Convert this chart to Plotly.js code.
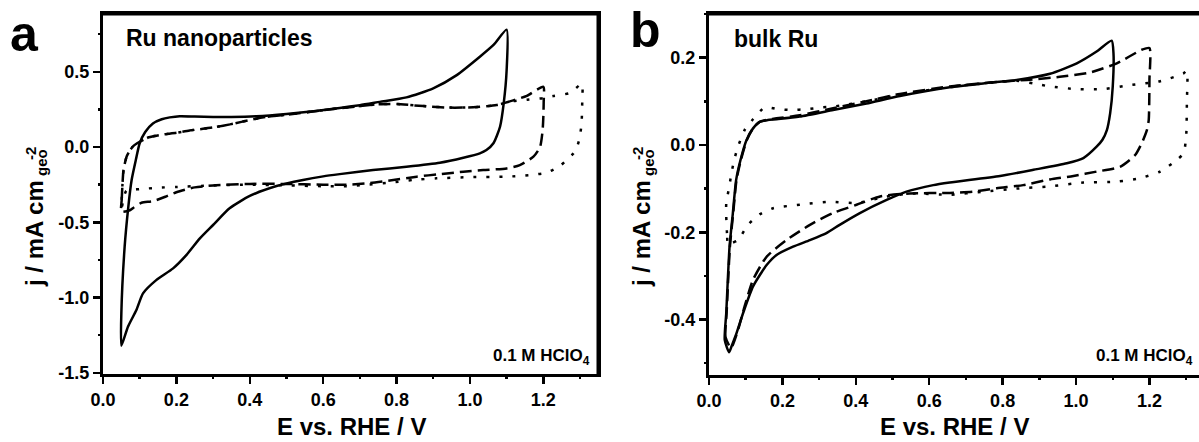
<!DOCTYPE html>
<html><head><meta charset="utf-8">
<script src="https://cdn.plot.ly/plotly-3.0.1.min.js"></script>
<style>html,body{margin:0;padding:0;background:#fff;}#chart{width:1199px;height:442px;}</style>
</head><body><div id="chart"></div>
<script>
// ---- Panel a: Ru nanoparticles ----
const aSolidE = [0.05, 0.05, 0.059, 0.069, 0.078, 0.09, 0.1, 0.115, 0.136, 0.16, 0.182, 0.209, 0.25, 0.3, 0.35, 0.418, 0.5, 0.58, 0.645, 0.7, 0.754, 0.827, 0.9, 0.964, 1.027, 1.065, 1.1, 1.1, 1.092, 1.082, 1.064, 1.045, 1.027, 0.982, 0.918, 0.827, 0.736, 0.645, 0.6, 0.545, 0.473, 0.4, 0.345, 0.3, 0.264, 0.227, 0.191, 0.145, 0.109, 0.091, 0.068, 0.05];
const aSolidJ = [-1.32, -1.105, -0.662, -0.397, -0.219, -0.08, 0.025, 0.1, 0.157, 0.185, 0.197, 0.205, 0.203, 0.2, 0.2, 0.205, 0.22, 0.24, 0.26, 0.278, 0.3, 0.33, 0.39, 0.478, 0.60, 0.68, 0.78, 0.51, 0.29, 0.135, 0.025, -0.02, -0.042, -0.071, -0.104, -0.131, -0.153, -0.18, -0.195, -0.219, -0.259, -0.325, -0.407, -0.518, -0.607, -0.718, -0.806, -0.884, -0.972, -1.083, -1.194, -1.32];
const aDashE = [0.05, 0.051, 0.053, 0.056, 0.065, 0.08, 0.1, 0.125, 0.155, 0.2, 0.236, 0.3, 0.355, 0.4, 0.445, 0.5, 0.6, 0.645, 0.7, 0.754, 0.8, 0.873, 0.945, 1.009, 1.073, 1.118, 1.155, 1.2, 1.201, 1.2, 1.198, 1.191, 1.173, 1.136, 1.1, 1.036, 0.982, 0.918, 0.855, 0.791, 0.727, 0.664, 0.6, 0.5, 0.4, 0.3, 0.25, 0.2, 0.17, 0.136, 0.105, 0.085, 0.073, 0.05];
const aDashJ = [-0.43, -0.35, -0.25, -0.15, -0.06, 0.0, 0.035, 0.065, 0.08, 0.095, 0.11, 0.13, 0.155, 0.18, 0.2, 0.215, 0.245, 0.258, 0.272, 0.285, 0.286, 0.272, 0.262, 0.264, 0.28, 0.31, 0.34, 0.40, 0.3, 0.2, 0.11, 0.0, -0.064, -0.12, -0.142, -0.153, -0.164, -0.18, -0.197, -0.219, -0.24, -0.25, -0.25, -0.245, -0.245, -0.255, -0.268, -0.3, -0.33, -0.36, -0.37, -0.4, -0.42, -0.43];
const aDotE = [0.05, 0.051, 0.053, 0.056, 0.065, 0.08, 0.1, 0.125, 0.155, 0.2, 0.236, 0.3, 0.355, 0.4, 0.445, 0.5, 0.6, 0.645, 0.7, 0.754, 0.8, 0.873, 0.945, 1.009, 1.073, 1.118, 1.155, 1.2, 1.227, 1.273, 1.305, 1.306, 1.304, 1.298, 1.29, 1.282, 1.245, 1.209, 1.164, 1.1, 1.0, 0.909, 0.845, 0.782, 0.709, 0.664, 0.6, 0.5, 0.4, 0.3, 0.2, 0.15, 0.1, 0.064, 0.055, 0.05];
const aDotJ = [-0.43, -0.35, -0.25, -0.15, -0.06, 0.0, 0.035, 0.065, 0.08, 0.095, 0.11, 0.13, 0.155, 0.18, 0.2, 0.215, 0.245, 0.258, 0.272, 0.285, 0.286, 0.272, 0.262, 0.264, 0.28, 0.305, 0.315, 0.325, 0.339, 0.36, 0.42, 0.3, 0.15, 0.05, -0.01, -0.042, -0.126, -0.17, -0.186, -0.197, -0.2, -0.208, -0.219, -0.237, -0.252, -0.261, -0.26, -0.255, -0.25, -0.255, -0.265, -0.27, -0.28, -0.29, -0.35, -0.43];

// ---- Panel b: bulk Ru ----
const bSolidE = [0.055, 0.043, 0.047, 0.056, 0.065, 0.074, 0.086, 0.102, 0.12, 0.138, 0.16, 0.184, 0.247, 0.338, 0.429, 0.52, 0.656, 0.747, 0.838, 0.929, 1.002, 1.056, 1.097, 1.102, 1.1, 1.093, 1.084, 1.072, 1.056, 1.02, 0.975, 0.884, 0.793, 0.656, 0.611, 0.538, 0.484, 0.411, 0.356, 0.32, 0.275, 0.229, 0.184, 0.157, 0.12, 0.093, 0.075, 0.062, 0.055];
const bSolidJ = [-0.475, -0.447, -0.385, -0.233, -0.156, -0.08, -0.034, 0.011, 0.038, 0.053, 0.057, 0.059, 0.065, 0.08, 0.095, 0.112, 0.132, 0.141, 0.149, 0.163, 0.187, 0.214, 0.239, 0.21, 0.134, 0.073, 0.034, 0.012, -0.004, -0.03, -0.042, -0.057, -0.071, -0.086, -0.092, -0.107, -0.126, -0.156, -0.183, -0.202, -0.218, -0.233, -0.252, -0.275, -0.324, -0.385, -0.431, -0.46, -0.475];
const bDashE = [0.06, 0.045, 0.048, 0.057, 0.066, 0.075, 0.087, 0.103, 0.12, 0.138, 0.16, 0.184, 0.247, 0.338, 0.429, 0.52, 0.656, 0.793, 0.866, 0.956, 1.038, 1.111, 1.179, 1.2, 1.2, 1.198, 1.193, 1.179, 1.161, 1.12, 1.056, 0.993, 0.929, 0.856, 0.784, 0.72, 0.656, 0.547, 0.466, 0.402, 0.338, 0.275, 0.211, 0.157, 0.12, 0.097, 0.079, 0.06];
const bDashJ = [-0.465, -0.44, -0.385, -0.233, -0.156, -0.08, -0.034, 0.011, 0.038, 0.053, 0.058, 0.061, 0.068, 0.084, 0.1, 0.117, 0.134, 0.145, 0.149, 0.156, 0.166, 0.187, 0.218, 0.222, 0.15, 0.057, 0.034, 0.004, -0.023, -0.05, -0.061, -0.071, -0.079, -0.092, -0.099, -0.107, -0.11, -0.111, -0.118, -0.137, -0.156, -0.183, -0.218, -0.256, -0.309, -0.37, -0.424, -0.465];
const bDotE = [0.052, 0.049, 0.047, 0.047, 0.056, 0.061, 0.07, 0.079, 0.097, 0.12, 0.152, 0.188, 0.225, 0.266, 0.307, 0.338, 0.429, 0.52, 0.656, 0.747, 0.838, 0.884, 0.929, 1.002, 1.075, 1.147, 1.229, 1.293, 1.302, 1.302, 1.3, 1.293, 1.275, 1.229, 1.175, 1.111, 1.02, 0.929, 0.838, 0.747, 0.656, 0.556, 0.484, 0.402, 0.329, 0.256, 0.175, 0.138, 0.106, 0.079, 0.062, 0.052];
const bDotJ = [-0.229, -0.202, -0.164, -0.134, -0.092, -0.065, -0.03, -0.004, 0.034, 0.059, 0.086, 0.082, 0.08, 0.082, 0.086, 0.088, 0.1, 0.115, 0.133, 0.141, 0.147, 0.141, 0.134, 0.128, 0.128, 0.137, 0.146, 0.164, 0.17, 0.1, 0.019, -0.019, -0.034, -0.061, -0.076, -0.084, -0.086, -0.095, -0.1, -0.107, -0.114, -0.111, -0.118, -0.133, -0.13, -0.136, -0.145, -0.159, -0.183, -0.218, -0.225, -0.229];

// ---- Tick labels and texts ----
const xTickVals = [0, 0.2, 0.4, 0.6, 0.8, 1.0, 1.2];
const xTickText = ['0.0', '0.2', '0.4', '0.6', '0.8', '1.0', '1.2'];
const aYTickVals = [-1.5, -1.0, -0.5, 0.0, 0.5];
const aYTickText = ['-1.5', '-1.0', '-0.5', '0.0', '0.5'];
const bYTickVals = [-0.4, -0.2, 0.0, 0.2];
const bYTickText = ['-0.4', '-0.2', '0.0', '0.2'];
const panelLabels = ['a', 'b'];
const sampleNames = ['Ru nanoparticles', 'bulk Ru'];
const xTitle = 'E vs. RHE / V';
const yTitleMain = 'j / mA cm';
const yTitleSup = '-2';
const yTitleSub = 'geo';

const W = 1199, H = 442;
const FAM = 'Liberation Sans, Arial, sans-serif';
const px = v => v / W;
const py = v => 1 - v / H;
const bold = arr => arr.map(s => '<b>' + s + '</b>');

const curve = {color: '#000', width: 2.5, shape: 'spline', smoothing: 0.6};
const solid = Object.assign({}, curve);
const dashL = Object.assign({dash: '12px,6px'}, curve);
const dotL = Object.assign({dash: '3px,10px'}, curve);

function tr(x, y, line, xa, ya) {
  return {x: x, y: y, mode: 'lines', line: line, xaxis: xa, yaxis: ya, hoverinfo: 'skip'};
}
function blank(xa, ya) {
  return {x: [], y: [], mode: 'lines', xaxis: xa, yaxis: ya, hoverinfo: 'skip'};
}
const data = [
  tr(aSolidE, aSolidJ, solid, 'x', 'y'),
  tr(aDashE, aDashJ, dashL, 'x', 'y'),
  tr(aDotE, aDotJ, dotL, 'x', 'y'),
  tr(bSolidE, bSolidJ, solid, 'x2', 'y2'),
  tr(bDashE, bDashJ, dashL, 'x2', 'y2'),
  tr(bDotE, bDotJ, dotL, 'x2', 'y2'),
  blank('x3', 'y3'),
  blank('x4', 'y4'),
  blank('x5', 'y5'),
  blank('x6', 'y6')
];

const tickFont = {family: FAM, size: 18, color: '#000'};
const LW = 3;
function xax(domain, range, anchor) {
  return {domain: domain, range: range, anchor: anchor, tickmode: 'array', tickvals: xTickVals, ticktext: bold(xTickText),
    ticks: 'outside', ticklen: 7, tickwidth: 2.5, tickcolor: '#000', showline: true, linewidth: LW,
    linecolor: '#000', mirror: true, showgrid: false, zeroline: false, tickfont: tickFont, fixedrange: true};
}
function yax(domain, range, anchor, vals, text, mirror) {
  return {domain: domain, range: range, anchor: anchor, tickmode: 'array', tickvals: vals, ticktext: bold(text),
    ticks: 'outside', ticklen: 7, tickwidth: 2.5, tickcolor: '#000', showline: true, linewidth: LW,
    linecolor: '#000', mirror: mirror, showgrid: false, zeroline: false, tickfont: tickFont, fixedrange: true};
}
// minor-tick axes (no labels, no lines)
function xminor(domain, range, anchor) {
  return {domain: domain, range: range, anchor: anchor, tickmode: 'linear', tick0: 0, dtick: 0.1,
    ticks: 'outside', ticklen: 4, tickwidth: 2.5, tickcolor: '#000', showticklabels: false,
    showline: false, showgrid: false, zeroline: false, fixedrange: true};
}
function yminor(domain, range, anchor, step) {
  return {domain: domain, range: range, anchor: anchor, tickmode: 'linear', tick0: 0, dtick: step,
    ticks: 'outside', ticklen: 4, tickwidth: 2.5, tickcolor: '#000', showticklabels: false,
    showline: false, showgrid: false, zeroline: false, fixedrange: true};
}
// frame axes: top line (and right line for panel a)
function frameAxis(domain, anchor, side, show) {
  return {domain: domain, range: [0, 1], anchor: anchor, side: side, showline: show, linewidth: LW, linecolor: '#000',
    ticks: '', showticklabels: false, showgrid: false, zeroline: false, fixedrange: true};
}

function ann(text, x, y, size, opts) {
  return Object.assign({text: '<b>' + text + '</b>', x: px(x), y: py(y), xref: 'paper', yref: 'paper', showarrow: false,
    font: {family: FAM, size: size, color: '#000'}}, opts || {});
}
function yTitleAnns(x0) {
  return [
    ann(yTitleMain, x0, 234, 24, {xanchor: 'center', yanchor: 'middle', textangle: -90}),
    ann(yTitleSup, x0 - 4, 154, 15, {xanchor: 'center', yanchor: 'middle', textangle: -90}),
    ann(yTitleSub, x0 + 7, 163, 15, {xanchor: 'center', yanchor: 'middle', textangle: -90})
  ];
}

const aXDom = [px(103), px(598)], aYDom = [py(374), py(14)];
const bXDom = [px(709), 1], bYDom = [py(375), py(14)];
const aXR = [0, 1.349], aYR = [-1.508, 0.884];
const bXR = [0, 1.335], bYR = [-0.527, 0.30];

const borderLine = {color: '#000', width: LW};

const layout = {
  width: W, height: H, margin: {l: 0, r: 0, t: 0, b: 0, pad: 0},
  paper_bgcolor: '#fff', plot_bgcolor: 'rgba(0,0,0,0)', showlegend: false,
  xaxis: xax(aXDom, aXR, 'y'),
  yaxis: yax(aYDom, aYR, 'x', aYTickVals, aYTickText, true),
  xaxis2: xax(bXDom, bXR, 'y2'),
  yaxis2: yax(bYDom, bYR, 'x2', bYTickVals, bYTickText, false),
  xaxis3: xminor(aXDom, aXR, 'y3'),
  yaxis3: yminor(aYDom, aYR, 'x3', 0.25),
  xaxis4: xminor(bXDom, bXR, 'y4'),
  yaxis4: yminor(bYDom, bYR, 'x4', 0.1),
  xaxis5: frameAxis(aXDom, 'y5', 'top', true),
  yaxis5: frameAxis(aYDom, 'x5', 'right', true),
  xaxis6: frameAxis(bXDom, 'y6', 'top', true),
  yaxis6: frameAxis(bYDom, 'x6', 'right', false),
  shapes: [
    {type: 'line', xref: 'paper', yref: 'paper', x0: px(102), x1: px(599), y0: py(14), y1: py(14), line: borderLine, layer: 'above'},
    {type: 'line', xref: 'paper', yref: 'paper', x0: px(598), x1: px(598), y0: py(13), y1: py(375), line: borderLine, layer: 'above'},
    {type: 'line', xref: 'paper', yref: 'paper', x0: px(708), x1: 1, y0: py(14), y1: py(14), line: borderLine, layer: 'above'}
  ],
  annotations: [
    ann(panelLabels[0], 25, 34, 50, {xanchor: 'center', yanchor: 'middle'}),
    ann(panelLabels[1], 645, 30, 50, {xanchor: 'center', yanchor: 'middle'}),
    ann(sampleNames[0], 124, 38, 23, {xanchor: 'left', yanchor: 'middle'}),
    ann(sampleNames[1], 732, 39, 23, {xanchor: 'left', yanchor: 'middle'}),
    ann('0.1 M HClO<sub>4</sub>', 592, 357, 17, {xanchor: 'right', yanchor: 'middle'}),
    ann('0.1 M HClO<sub>4</sub>', 1195, 357, 17, {xanchor: 'right', yanchor: 'middle'}),
    ann(xTitle, 351, 442, 24, {xanchor: 'center', yanchor: 'bottom'}),
    ann(xTitle, 954, 442, 24, {xanchor: 'center', yanchor: 'bottom'})
  ].concat(yTitleAnns(34), yTitleAnns(641))
};

Plotly.newPlot('chart', data, layout, {staticPlot: true, displayModeBar: false});
</script>
</body></html>
